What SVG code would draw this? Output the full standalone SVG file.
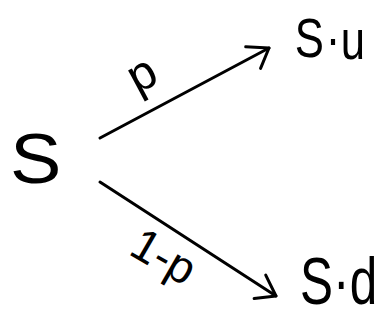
<svg xmlns="http://www.w3.org/2000/svg" width="385" height="322" viewBox="0 0 385 322">
<style>
.lbl{font-family:"Liberation Sans","DejaVu Sans",sans-serif;fill:#000}
.edge{fill:none;stroke:#000;stroke-width:3;stroke-linecap:round;stroke-linejoin:round}
</style>
<defs>
<marker id="ah" markerUnits="userSpaceOnUse" viewBox="-30 -20 40 40" markerWidth="40" markerHeight="40" refX="0" refY="0" orient="auto" overflow="visible">
<path d="M-20,-12 L0,0 L-17,14" fill="none" stroke="#000" stroke-width="3" stroke-linecap="round" stroke-linejoin="round"/>
</marker>
</defs>
<rect width="385" height="322" fill="#fff"/>
<g id="connectors">
<path class="edge" d="M100,138 L269,48" marker-end="url(#ah)"/>
<path class="edge" d="M100,182 L276,296" marker-end="url(#ah)"/>
<text class="lbl" font-size="48" text-anchor="middle" transform="translate(149,88) rotate(-28)">p</text>
<text class="lbl" font-size="46" text-anchor="middle" transform="translate(156,270) rotate(30)">1-p</text>
</g>
<g id="node-S">
<text class="lbl" font-size="70" transform="translate(10,183) scale(1.1,1)">S</text>
</g>
<g id="node-Su">
<text class="lbl" font-size="56" transform="translate(297,57) scale(0.78,1)"><tspan x="-3">S</tspan><tspan x="37">·</tspan><tspan x="56" dy="2">u</tspan></text>
</g>
<g id="node-Sd">
<text class="lbl" font-size="66" transform="translate(300,304) scale(0.75,1)"><tspan x="0">S</tspan><tspan x="44">·</tspan><tspan x="66.5">d</tspan></text>
</g>
</svg>
